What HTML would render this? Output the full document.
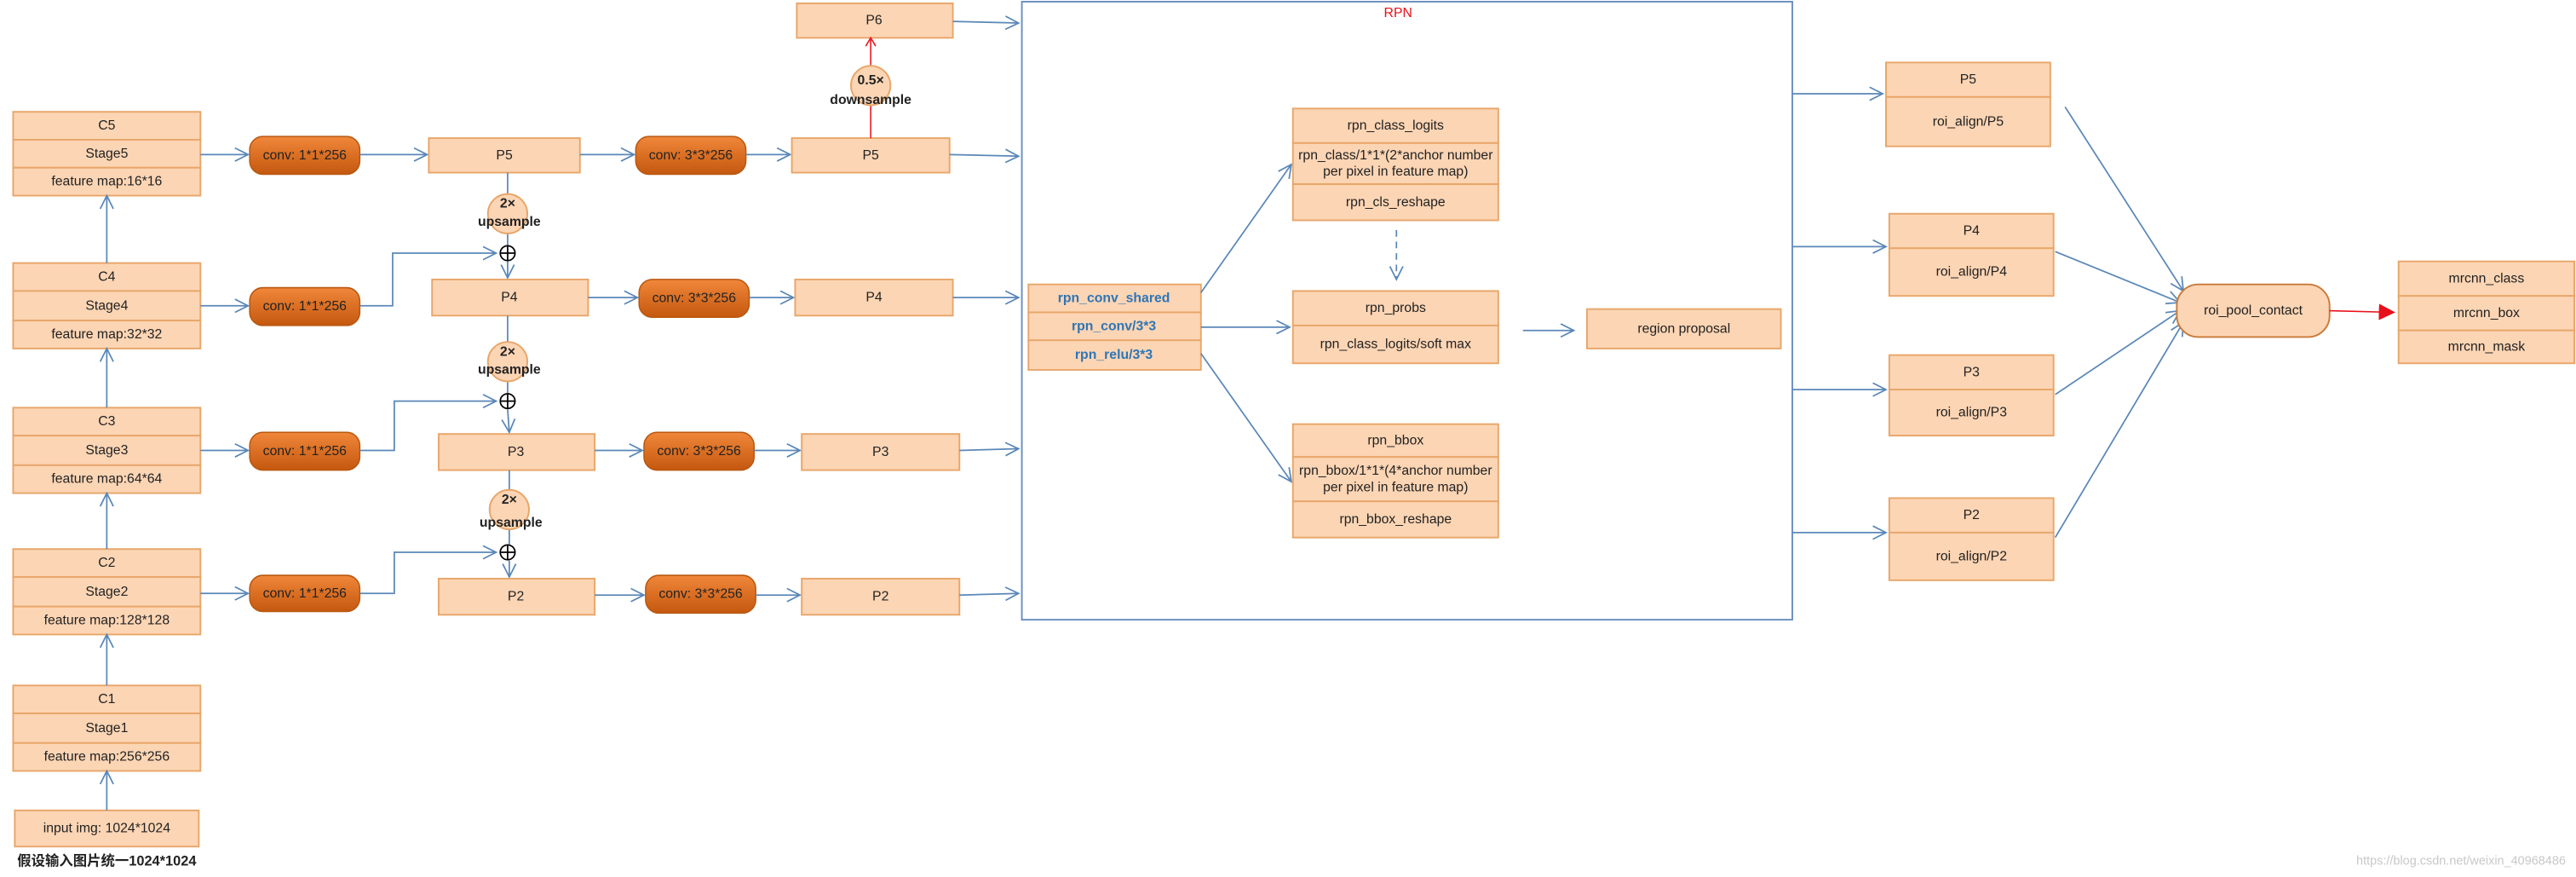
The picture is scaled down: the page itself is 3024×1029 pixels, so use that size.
<!DOCTYPE html>
<html><head><meta charset="utf-8"><style>
html,body{margin:0;padding:0;background:#fff;}
svg{display:block}
text{font-family:"Liberation Sans","Noto Sans CJK SC",sans-serif;font-size:8.2px;fill:#222;text-anchor:middle;dominant-baseline:central}
.b{fill:#fcd5b4;stroke:#e8a66a;stroke-width:1}
.l{stroke:#5a87b8;stroke-width:0.9;fill:none}
.p{fill:url(#g);stroke:#b85810;stroke-width:0.8}
.bl{fill:#2e75b6;font-weight:bold}
</style></head><body>
<svg width="3024" height="1029" viewBox="0 0 1568 533.5" xmlns="http://www.w3.org/2000/svg">
<defs>
<linearGradient id="g" x1="0" y1="0" x2="0" y2="1"><stop offset="0" stop-color="#f0873a"/><stop offset="1" stop-color="#c5580f"/></linearGradient>
<marker id="a" markerWidth="10" markerHeight="10" refX="9" refY="5" orient="auto" markerUnits="userSpaceOnUse"><polyline points="1,1 9,5 1,9" fill="none" stroke="#5a87b8" stroke-width="0.9"/></marker>
<marker id="r" markerWidth="10" markerHeight="10" refX="9" refY="5" orient="auto" markerUnits="userSpaceOnUse"><polygon points="0,0 10,5 0,10" fill="#e8101a"/></marker>
</defs>

<!-- left backbone -->
<g>
<rect class="b" x="8" y="68" width="114" height="17"/><rect class="b" x="8" y="85" width="114" height="17"/><rect class="b" x="8" y="102" width="114" height="17"/>
<text x="65" y="76.5">C5</text><text x="65" y="93.5">Stage5</text><text x="65" y="110.5">feature  map:16*16</text>
<rect class="b" x="8" y="160" width="114" height="17"/><rect class="b" x="8" y="177" width="114" height="18"/><rect class="b" x="8" y="195" width="114" height="17"/>
<text x="65" y="168.5">C4</text><text x="65" y="186">Stage4</text><text x="65" y="203.5">feature  map:32*32</text>
<rect class="b" x="8" y="248" width="114" height="17"/><rect class="b" x="8" y="265" width="114" height="18"/><rect class="b" x="8" y="283" width="114" height="17"/>
<text x="65" y="256.5">C3</text><text x="65" y="274">Stage3</text><text x="65" y="291.5">feature  map:64*64</text>
<rect class="b" x="8" y="334" width="114" height="17"/><rect class="b" x="8" y="351" width="114" height="18"/><rect class="b" x="8" y="369" width="114" height="17"/>
<text x="65" y="342.5">C2</text><text x="65" y="360">Stage2</text><text x="65" y="377.5">feature  map:128*128</text>
<rect class="b" x="8" y="417" width="114" height="17"/><rect class="b" x="8" y="434" width="114" height="18"/><rect class="b" x="8" y="452" width="114" height="17"/>
<text x="65" y="425.5">C1</text><text x="65" y="443">Stage1</text><text x="65" y="460.5">feature  map:256*256</text>
<rect class="b" x="9" y="493" width="112" height="22"/><text x="65" y="504">input img: 1024*1024</text>
<text x="65" y="524" style="font-weight:bold;font-size:8.5px">假设输入图片统一1024*1024</text>
<line class="l" x1="65" y1="493" x2="65" y2="469" marker-end="url(#a)"/>
<line class="l" x1="65" y1="417" x2="65" y2="386" marker-end="url(#a)"/>
<line class="l" x1="65" y1="334" x2="65" y2="300" marker-end="url(#a)"/>
<line class="l" x1="65" y1="248" x2="65" y2="212" marker-end="url(#a)"/>
<line class="l" x1="65" y1="160" x2="65" y2="119" marker-end="url(#a)"/>
</g>

<!-- conv 1x1 -->
<g>
<rect class="p" x="152" y="83" width="67" height="23" rx="8"/><text x="185.5" y="94.5">conv: 1*1*256</text>
<rect class="p" x="152" y="175" width="67" height="23" rx="8"/><text x="185.5" y="186.5">conv: 1*1*256</text>
<rect class="p" x="152" y="263" width="67" height="23" rx="8"/><text x="185.5" y="274.5">conv: 1*1*256</text>
<rect class="p" x="152" y="350" width="67" height="22" rx="8"/><text x="185.5" y="361">conv: 1*1*256</text>
<line class="l" x1="122" y1="94" x2="151" y2="94" marker-end="url(#a)"/>
<line class="l" x1="122" y1="186" x2="151" y2="186" marker-end="url(#a)"/>
<line class="l" x1="122" y1="274" x2="151" y2="274" marker-end="url(#a)"/>
<line class="l" x1="122" y1="361" x2="151" y2="361" marker-end="url(#a)"/>
<line class="l" x1="219" y1="94" x2="260" y2="94" marker-end="url(#a)"/>
<polyline class="l" points="219,186 239,186 239,154 302,154" marker-end="url(#a)"/>
<polyline class="l" points="219,274 240,274 240,244 302,244" marker-end="url(#a)"/>
<polyline class="l" points="219,361 240,361 240,336 302,336" marker-end="url(#a)"/>
</g>

<!-- P middle column -->
<g>
<rect class="b" x="261" y="84" width="92" height="21"/><text x="307" y="94.5">P5</text>
<rect class="b" x="263" y="170" width="95" height="22"/><text x="310" y="181">P4</text>
<rect class="b" x="267" y="264" width="95" height="22"/><text x="314" y="275">P3</text>
<rect class="b" x="267" y="352" width="95" height="22"/><text x="314" y="363">P2</text>
<line class="l" x1="309" y1="105" x2="309" y2="118"/><line class="l" x1="309" y1="142" x2="309" y2="149"/><line class="l" x1="309" y1="159" x2="309" y2="169" marker-end="url(#a)"/>
<line class="l" x1="309" y1="192" x2="309" y2="208"/><line class="l" x1="309" y1="232" x2="309" y2="239"/><line class="l" x1="309" y1="249" x2="310" y2="263" marker-end="url(#a)"/>
<line class="l" x1="310" y1="286" x2="310" y2="298"/><line class="l" x1="310" y1="322" x2="310" y2="331"/><line class="l" x1="310" y1="341" x2="310" y2="351" marker-end="url(#a)"/>
<ellipse cx="309" cy="130" rx="12" ry="12" fill="#fcd5b4" stroke="#e8a66a"/>
<ellipse cx="309" cy="220" rx="12" ry="12" fill="#fcd5b4" stroke="#e8a66a"/>
<ellipse cx="310" cy="310" rx="12" ry="12" fill="#fcd5b4" stroke="#e8a66a"/>
<text x="309" y="124" style="font-weight:bold">2×</text><text x="310" y="135" style="font-weight:bold">upsample</text>
<text x="309" y="214" style="font-weight:bold">2×</text><text x="310" y="225" style="font-weight:bold">upsample</text>
<text x="310" y="304" style="font-weight:bold">2×</text><text x="311" y="318" style="font-weight:bold">upsample</text>
<g fill="none" stroke="#000" stroke-width="0.9">
<circle cx="309" cy="154" r="4.5"/><line x1="304.5" y1="154" x2="313.5" y2="154"/><line x1="309" y1="149.5" x2="309" y2="158.5"/>
<circle cx="309" cy="244" r="4.5"/><line x1="304.5" y1="244" x2="313.5" y2="244"/><line x1="309" y1="239.5" x2="309" y2="248.5"/>
<circle cx="309" cy="336" r="4.5"/><line x1="304.5" y1="336" x2="313.5" y2="336"/><line x1="309" y1="331.5" x2="309" y2="340.5"/>
</g>
</g>

<!-- conv 3x3 -->
<g>
<rect class="p" x="387" y="83" width="67" height="23" rx="8"/><text x="420.5" y="94.5">conv: 3*3*256</text>
<rect class="p" x="389" y="170" width="67" height="23" rx="8"/><text x="422.5" y="181.5">conv: 3*3*256</text>
<rect class="p" x="392" y="263" width="67" height="23" rx="8"/><text x="425.5" y="274.5">conv: 3*3*256</text>
<rect class="p" x="393" y="350" width="67" height="23" rx="8"/><text x="426.5" y="361.5">conv: 3*3*256</text>
<line class="l" x1="353" y1="94" x2="386" y2="94" marker-end="url(#a)"/>
<line class="l" x1="358" y1="181" x2="388" y2="181" marker-end="url(#a)"/>
<line class="l" x1="362" y1="274" x2="391" y2="274" marker-end="url(#a)"/>
<line class="l" x1="362" y1="362" x2="392" y2="362" marker-end="url(#a)"/>
<line class="l" x1="454" y1="94" x2="481" y2="94" marker-end="url(#a)"/>
<line class="l" x1="456" y1="181" x2="483" y2="181" marker-end="url(#a)"/>
<line class="l" x1="459" y1="274" x2="487" y2="274" marker-end="url(#a)"/>
<line class="l" x1="460" y1="362" x2="487" y2="362" marker-end="url(#a)"/>
<rect class="b" x="482" y="84" width="96" height="21"/><text x="530" y="94.5">P5</text>
<rect class="b" x="484" y="170" width="96" height="22"/><text x="532" y="181">P4</text>
<rect class="b" x="488" y="264" width="96" height="22"/><text x="536" y="275">P3</text>
<rect class="b" x="488" y="352" width="96" height="22"/><text x="536" y="363">P2</text>
<rect class="b" x="485" y="2" width="95" height="21"/><text x="532" y="12.5">P6</text>
<line x1="530" y1="84" x2="530" y2="64" stroke="#e8101a" stroke-width="0.8"/>
<line x1="530" y1="40" x2="530" y2="24" stroke="#e8101a" stroke-width="0.8"/>
<polyline points="527,28 530,23 533,28" fill="none" stroke="#e8101a" stroke-width="0.8"/>
<ellipse cx="530" cy="52" rx="12" ry="12" fill="#fcd5b4" stroke="#e8a66a"/>
<text x="530" y="49" style="font-weight:bold">0.5×</text><text x="530" y="61" style="font-weight:bold">downsample</text>
<line class="l" x1="580" y1="13" x2="620" y2="14" marker-end="url(#a)"/>
<line class="l" x1="578" y1="94" x2="620" y2="95" marker-end="url(#a)"/>
<line class="l" x1="580" y1="181" x2="620" y2="181" marker-end="url(#a)"/>
<line class="l" x1="584" y1="274" x2="620" y2="273" marker-end="url(#a)"/>
<line class="l" x1="584" y1="362" x2="620" y2="361" marker-end="url(#a)"/>
</g>

<!-- RPN -->
<g>
<rect x="622" y="1" width="469" height="376" fill="none" stroke="#6a8fbf" stroke-width="1"/>
<text x="851" y="8" style="fill:#e8101a">RPN</text>
<rect class="b" x="626" y="173" width="105" height="17"/><rect class="b" x="626" y="190" width="105" height="17"/><rect class="b" x="626" y="207" width="105" height="18"/>
<text class="bl" x="678" y="181.5">rpn_conv_shared</text><text class="bl" x="678" y="198.5">rpn_conv/3*3</text><text class="bl" x="678" y="216">rpn_relu/3*3</text>
<rect class="b" x="787" y="66" width="125" height="21"/><rect class="b" x="787" y="87" width="125" height="25"/><rect class="b" x="787" y="112" width="125" height="22"/>
<text x="849.5" y="76.5">rpn_class_logits</text><text x="849.5" y="94.5">rpn_class/1*1*(2*anchor number</text><text x="849.5" y="104.5">per pixel in feature map)</text><text x="849.5" y="123">rpn_cls_reshape</text>
<line class="l" x1="850" y1="140" x2="850" y2="170" stroke-dasharray="4,3" marker-end="url(#a)"/>
<rect class="b" x="787" y="177" width="125" height="21"/><rect class="b" x="787" y="198" width="125" height="23"/>
<text x="849.5" y="187.5">rpn_probs</text><text x="849.5" y="209.5">rpn_class_logits/soft max</text>
<rect class="b" x="787" y="258" width="125" height="20"/><rect class="b" x="787" y="278" width="125" height="27"/><rect class="b" x="787" y="305" width="125" height="22"/>
<text x="849.5" y="268">rpn_bbox</text><text x="849.5" y="286.5">rpn_bbox/1*1*(4*anchor number</text><text x="849.5" y="296.5">per pixel in feature map)</text><text x="849.5" y="316">rpn_bbox_reshape</text>
<rect class="b" x="966" y="188" width="118" height="24"/><text x="1025" y="200">region proposal</text>
<line class="l" x1="731" y1="178" x2="786" y2="100" marker-end="url(#a)"/>
<line class="l" x1="731" y1="199" x2="785" y2="199" marker-end="url(#a)"/>
<line class="l" x1="731" y1="215" x2="786" y2="293" marker-end="url(#a)"/>
<line class="l" x1="927" y1="201" x2="958" y2="201" marker-end="url(#a)"/>
</g>

<!-- right -->
<g>
<line class="l" x1="1091" y1="57" x2="1146" y2="57" marker-end="url(#a)"/>
<line class="l" x1="1091" y1="150" x2="1148" y2="150" marker-end="url(#a)"/>
<line class="l" x1="1091" y1="237" x2="1148" y2="237" marker-end="url(#a)"/>
<line class="l" x1="1091" y1="324" x2="1148" y2="324" marker-end="url(#a)"/>
<rect class="b" x="1148" y="38" width="100" height="21"/><rect class="b" x="1148" y="59" width="100" height="30"/>
<text x="1198" y="48.5">P5</text><text x="1198" y="74">roi_align/P5</text>
<rect class="b" x="1150" y="130" width="100" height="21"/><rect class="b" x="1150" y="151" width="100" height="29"/>
<text x="1200" y="140.5">P4</text><text x="1200" y="165.5">roi_align/P4</text>
<rect class="b" x="1150" y="216" width="100" height="21"/><rect class="b" x="1150" y="237" width="100" height="28"/>
<text x="1200" y="226.5">P3</text><text x="1200" y="251">roi_align/P3</text>
<rect class="b" x="1150" y="303" width="100" height="21"/><rect class="b" x="1150" y="324" width="100" height="29"/>
<text x="1200" y="313.5">P2</text><text x="1200" y="338.5">roi_align/P2</text>
<line class="l" x1="1257" y1="65" x2="1329" y2="177" marker-end="url(#a)"/>
<line class="l" x1="1251" y1="153" x2="1327" y2="184" marker-end="url(#a)"/>
<line class="l" x1="1251" y1="240" x2="1327" y2="189" marker-end="url(#a)"/>
<line class="l" x1="1251" y1="327" x2="1329" y2="196" marker-end="url(#a)"/>
<rect x="1325" y="173" width="93" height="32" rx="13" fill="#fcd5b4" stroke="#c87a3a"/>
<text x="1371.5" y="189">roi_pool_contact</text>
<line x1="1418" y1="189" x2="1457" y2="190" stroke="#e8101a" stroke-width="0.8" marker-end="url(#r)"/>
<rect class="b" x="1460" y="159" width="107" height="21"/><rect class="b" x="1460" y="180" width="107" height="21"/><rect class="b" x="1460" y="201" width="107" height="20"/>
<text x="1513.5" y="169.5">mrcnn_class</text><text x="1513.5" y="190.5">mrcnn_box</text><text x="1513.5" y="211">mrcnn_mask</text>
<text x="1498" y="524" style="fill:#c8c8c8;font-size:7.5px">https://blog.csdn.net/weixin_40968486</text>
</g>
</svg>
</body></html>
